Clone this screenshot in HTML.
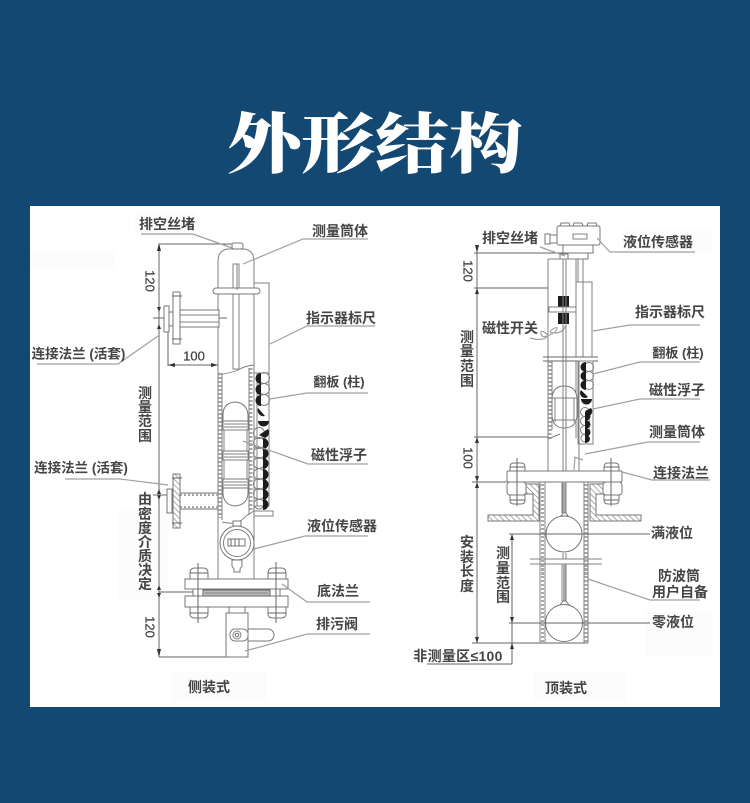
<!DOCTYPE html>
<html lang="zh"><head><meta charset="utf-8"><title>外形结构</title>
<style>
html,body{margin:0;padding:0;background:#134873;width:750px;height:803px;overflow:hidden}
svg{display:block;position:absolute;left:0;top:0}
.l{fill:none;stroke:#808080;stroke-width:1}
.k{fill:none;stroke:#666;stroke-width:1}
.g{fill:none;stroke:#a0a0a0;stroke-width:1.2}
.w{fill:#fff;stroke:#777;stroke-width:1}
.t{font-family:"Liberation Sans","Noto Sans CJK SC",sans-serif;font-size:14px;font-weight:700;fill:#444;text-anchor:middle;dominant-baseline:central}
.n{font-weight:400;font-size:13px;stroke:#444;stroke-width:.25}
.h{fill:url(#hatch);stroke:#777;stroke-width:1}
.d{fill:none;stroke:#aaa;stroke-width:3;stroke-dasharray:2 2}
.a{fill:#333}
</style></head>
<body>
<svg width="750" height="803" viewBox="0 0 750 803" xmlns="http://www.w3.org/2000/svg">
<defs>
<pattern id="hatch" width="4" height="4" patternUnits="userSpaceOnUse" patternTransform="rotate(-45)"><rect width="4" height="4" fill="#fff"/><line x1="0" y1="0" x2="0" y2="4" stroke="#777" stroke-width="1.2"/></pattern>
<filter id="b" x="0" y="0" width="100%" height="100%"><feGaussianBlur stdDeviation="0.35"/></filter>
</defs>
<text transform="translate(375 142.500) scale(1 .88)" x="0" y="-4" text-anchor="middle" dominant-baseline="central" font-family="'Noto Serif CJK SC','Liberation Serif',serif" font-size="74" font-weight="900" fill="#fff">外形结构</text>
<rect x="30" y="206" width="690" height="501" fill="#fff"/>
<g fill="#fcfcfc"><rect x="135" y="212" width="62" height="24"/><rect x="172" y="672" width="95" height="30"/><rect x="533" y="672" width="93" height="30"/><rect x="645" y="612" width="68" height="45"/><rect x="622" y="230" width="90" height="24"/><rect x="30" y="250" width="85" height="18"/><rect x="118" y="510" width="50" height="90"/></g>
<g filter="url(#b)">

<!-- LEFT: dimension lines -->
<path class="k" d="M159 244V657M159 244H232M159 657H248M168 330V366M218 350V370M168 365H218M153 318H227M159 592H193"/>
<path class="a" d="M159 243l-2 8h4zM159 657l-2-8h4zM159 312l-2-5h4zM159 324l-2 5h4zM168 365l7-2v4zM218 365l-7-2v4zM159 489l-2 5h4zM159 500l-2-5h4zM159 585l-2 5h4zM159 598l-2-5h4z"/>
<path class="k" d="M153 495H170"/>
<!-- body -->
<path class="l" d="M218 373V262Q218 250 228 249H244Q254 250 254 262V365"/>
<rect class="w" x="232" y="243" width="11" height="6" rx="2"/>
<rect class="l" x="233" y="264" width="6" height="105"/>
<rect class="w" x="213" y="288" width="47" height="6" rx="3"/>
<path class="l" d="M237 264V290M254 283H269V373M218 375Q235 372 240 369T254 365"/>
<!-- upper flange -->
<rect class="w" x="180" y="310" width="39" height="17"/>
<path class="l" d="M180 315H219M180 322H219"/>
<rect class="w" x="173" y="292" width="7" height="52"/>
<rect class="w" x="169" y="312" width="4" height="14"/>
<rect class="w" x="164" y="306" width="5" height="26"/>
<path class="k" d="M172 296H182M172 339H182"/>
<!-- tube lower -->
<path class="d" d="M220 373V518"/>
<path class="d" d="M251 368V512"/>
<path class="l" d="M218 373V579M222 373V520M254 365V579M249 368V515"/>
<path class="l" d="M222 522Q238 526 246 516L254 511"/>
<!-- scale lower -->
<rect class="l" x="254" y="373" width="15" height="133"/>
<rect class="l" x="257" y="373" width="12" height="133"/>
<g class="l">
<circle cx="264" cy="378" r="5.500"/><circle cx="264" cy="389" r="5.500"/><circle cx="264" cy="400" r="5.500"/><circle cx="259" cy="433" r="5.500"/><circle cx="259" cy="443" r="5.500"/><circle cx="259" cy="453" r="5.500"/><circle cx="259" cy="463" r="5.500"/><circle cx="259" cy="474" r="5.500"/><circle cx="259" cy="484" r="5.500"/><circle cx="259" cy="494" r="5.500"/><circle cx="259" cy="504" r="5"/>
</g>
<g fill="#1d1d1d">
<path d="M261 373a5.500 5.500 0 0 0 0 11zM261 384a5.500 5.500 0 0 0 0 11zM261 395a5.500 5.500 0 0 0 0 11z"/>
<path d="M258 408l7 8a6 6 0 0 1-7-8zM258 421h11a5.500 5.500 0 0 1-11 0zM268 429a6 6 0 0 1-3 9l-6-3z"/>
<path d="M263 438a5.500 5.500 0 0 1 0 11zM263 448a5.500 5.500 0 0 1 0 11zM263 458a5.500 5.500 0 0 1 0 11zM263 469a5.500 5.500 0 0 1 0 11zM263 479a5.500 5.500 0 0 1 0 11zM263 489a5.500 5.500 0 0 1 0 11zM263 499a5.500 5.500 0 0 1 0 11z"/>
</g>
<!-- float -->
<path class="w" d="M223 421V415Q223 403 235 402Q247 403 248 415V421Z"/>
<rect class="w" x="223" y="421" width="25" height="9"/>
<path class="l" d="M224 424H247M224 427H247"/>
<rect class="l" x="224" y="430" width="23" height="25"/>
<rect class="w" x="223" y="451" width="25" height="9"/>
<path class="l" d="M224 454H247M224 457H247"/>
<rect class="l" x="224" y="460" width="23" height="19"/>
<rect class="w" x="223" y="479" width="25" height="9"/>
<path class="l" d="M224 482H247M224 485H247"/>
<path class="w" d="M223 488V494Q224 505 235 506Q247 505 248 494V488Z"/>
<!-- lower flange -->
<rect class="w" x="180" y="493" width="38" height="16"/>
<path class="d" d="M180 494.500H218M180 507.500H218"/>
<rect class="h" x="173" y="474" width="7" height="54"/>
<rect class="w" x="167" y="489" width="5" height="24"/>
<path class="k" d="M172 478H182M172 523H182"/>
<!-- scale foot -->
<path class="l" d="M253 511H273V516H254"/>
<!-- transmitter -->
<rect class="w" x="233" y="521" width="8" height="5"/>
<circle class="w" cx="237" cy="543" r="17"/>
<circle class="l" cx="237" cy="543" r="13.500"/>
<rect class="w" x="228" y="539" width="17" height="7"/>
<path class="k" d="M231 539v7M235 539v7M239 539v7"/>
<path class="w" d="M232 560h10v6l-2 3v3h-6v-3l-2-3z"/>
<!-- bottom flange -->
<rect class="w" x="185" y="579" width="103" height="10"/>
<rect class="w" x="185" y="596" width="103" height="11"/>
<rect class="w" x="193" y="589" width="10" height="7"/><rect class="w" x="270" y="589" width="10" height="7"/>
<rect x="203" y="590" width="67" height="6" fill="#bbb" stroke="#666"/>
<path class="l" d="M205 593H268"/>
<path class="w" d="M190 579v-6q0-5 5-5h8q5 0 5 5v6z"/>
<path class="w" d="M268 579v-6q0-5 5-5h8q5 0 5 5v6z"/>
<path class="w" d="M190 607v7q0 4 5 4h8q5 0 5-4v-7z"/>
<path class="w" d="M268 607v7q0 4 5 4h8q5 0 5-4v-7z"/>
<path class="k" d="M198 563V623M276 562V623M190 573H208M268 573H286M190 613H208M268 613H286"/>
<!-- valve -->
<rect class="w" x="229" y="607" width="16" height="6"/>
<rect class="w" x="226" y="613" width="22" height="44"/>
<path class="w" d="M248 629H268a6 6 0 0 1 0 12H248Z"/>
<rect class="l" x="230" y="629" width="18" height="12" rx="5"/>
<circle class="l" cx="237" cy="635" r="4"/><circle class="k" cx="237" cy="635" r="1.800"/>
<!-- left leaders -->
<path class="g" d="M141 234H193L232 248M368 239H303L243 264M375 326H307L270 344M37 364H118L158 336M368 393H307L270 399M368 464H308L243 441M65 479H120L168 485M368 536H305L254 549M370 602H307L282 584M370 634H307L245 651"/>
<!-- left labels -->
<text class="t" x="167" y="224">排空丝堵</text>
<text class="t" x="340" y="231">测量筒体</text>
<text class="t" x="341" y="318">指示器标尺</text>
<text class="t" x="78.500" y="354" style="font-size:13.500px">连接法兰 (活套)</text>
<text class="t n" x="194" y="356">100</text>
<text class="t" x="339" y="382" style="font-size:13px">翻板 (柱)</text>
<text class="t" x="339" y="455">磁性浮子</text>
<text class="t" x="81" y="468" style="font-size:13.500px">连接法兰 (活套)</text>
<text class="t" x="342" y="526">液位传感器</text>
<text class="t" x="338" y="591">底法兰</text>
<text class="t" x="337" y="624">排污阀</text>
<text class="t" x="209" y="687">侧装式</text>
<text class="t" x="145" y="393">测</text><text class="t" x="145" y="407">量</text><text class="t" x="145" y="421">范</text><text class="t" x="145" y="436">围</text>
<text class="t" x="145" y="499">由</text><text class="t" x="145" y="514">密</text><text class="t" x="145" y="528">度</text><text class="t" x="145" y="542">介</text><text class="t" x="145" y="556">质</text><text class="t" x="145" y="570">决</text><text class="t" x="145" y="584">定</text>
<text class="t n" transform="translate(150 281) rotate(90)">120</text>
<text class="t n" transform="translate(150 627) rotate(90)">120</text>

<!-- RIGHT: dims -->
<path class="k" d="M477 248V643M474 288H548M474 253H563M474 437H548M472 482H507M472 643H588M512 534V664M509 534H650M509 623H650M427 664H512"/>
<path class="a" d="M477 253l-2-8h4zM477 288l-2 6h4zM477 437l-2 6h4zM477 482l-2-6h4zM477 482l-2 6h4zM477 643l-2-6h4zM512 534l-2 6h4zM512 623l-2-6h4zM512 643l-2 6h4z"/>
<!-- sensor -->
<rect class="w" x="557" y="226" width="43" height="19" rx="2"/>
<path class="w" d="M560 226l1-3h8l1 3zM573 226l1-3h8l1 3zM587 226l1-3h8l1 3z"/>
<rect class="l" x="573" y="234" width="14" height="5"/>
<rect class="w" x="550" y="235" width="7" height="8"/><rect class="w" x="545" y="234" width="5" height="10"/>
<rect class="w" x="563" y="245" width="30" height="8"/>
<rect class="w" x="568" y="253" width="20" height="6"/>
<rect class="w" x="560" y="254" width="8" height="5"/>
<!-- body -->
<path class="l" d="M548 259H576V357M548 259V439M563 259V516M566 259V516"/>
<path class="l" d="M578 259V282M583 259V282"/>
<rect class="l" x="576" y="282" width="16" height="75"/>
<path class="l" d="M583 282V357"/>
<rect x="558" y="296" width="11" height="11" fill="#1d1d1d"/><rect x="558" y="313" width="11" height="11" fill="#1d1d1d"/>
<rect class="l" x="549" y="307" width="27" height="5"/>
<path class="g" d="M530 338Q545 342 548 335Q540 328 541 334T555 332Q560 325 553 329T556 333Q564 332 565 326"/>
<path class="k" d="M543 357H598M543 361H598"/>
<!-- lower -->
<path class="d" d="M550 361V439"/>
<path class="l" d="M548 361V471M552 361V430M576 361V438M579 361V471"/>
<rect class="l" x="578" y="361" width="15" height="83"/>
<g class="l"><circle cx="589" cy="367" r="4.500"/><circle cx="589" cy="376" r="4.500"/><circle cx="589" cy="385" r="4.500"/><circle cx="585" cy="412" r="4.500"/><circle cx="585" cy="421" r="4.500"/><circle cx="585" cy="430" r="4.500"/><circle cx="585" cy="438" r="4"/></g>
<g fill="#1d1d1d">
<path d="M586 362a5.500 5 0 0 0 0 10zM586 371a5.500 5 0 0 0 0 10zM586 380a5.500 5 0 0 0 0 10z"/>
<path d="M581 390l7 7a5 5 0 0 1-7-7zM581 399h11a5 5 0 0 1-11 0zM591 408l-6 3 4 5a5 5 0 0 0 2-8z"/>
<path d="M585 412a5.500 4.500 0 0 1 0 9zM585 420a5.500 4.500 0 0 1 0 9zM585 428a5.500 4.500 0 0 1 0 9zM585 435a5 4 0 0 1 0 8z"/>
</g>
<path class="w" d="M552 398Q553 386 564 386Q576 386 577 398V416Q576 428 564 428Q553 428 552 416Z"/>
<path class="l" d="M552 398H577M555 398V422M574 398V422M553 420H576"/>
<path class="l" d="M563 259V482M566 259V482M548 439L560 434"/>
<!-- flange -->
<rect class="w" x="507" y="471" width="115" height="11" rx="1"/>
<path class="h" d="M522 484H539V521H488V515H533V494H522Z"/>
<path class="h" d="M607 484H590V521H641V515H596V494H607Z"/>
<rect class="w" x="507" y="482" width="19" height="13" rx="3"/>
<rect class="w" x="603" y="482" width="19" height="13" rx="3"/>
<path class="w" d="M510 471v-4q0-4 4-4h7q4 0 4 4v4zM604 471v-4q0-4 4-4h7q4 0 4 4v4z"/>
<path class="w" d="M510 495v5q0 4 4 4h7q4 0 4-4v-5zM604 495v5q0 4 4 4h7q4 0 4-4v-5z"/>
<path class="k" d="M517 458V506M611 458V506M510 467H525M604 467H619M510 500H525M604 500H619"/>
<!-- tube -->
<path class="l" d="M540 482V643M545 482V643M584 482V643M588 482V643"/>
<path class="d" d="M542.500 484V642M586 484V642"/>
<rect fill="#aaa" x="563" y="483" width="3" height="30"/>
<path class="l" d="M562 483V513M566 483V513"/>
<path class="w" d="M561 516l2-3h3l2 3z"/>
<circle class="w" cx="564" cy="534" r="18"/>
<rect fill="#fff" x="546" y="553" width="37" height="18"/>
<path class="l" d="M563 553V559M566 553V559M530 559H602M530 564H602"/>
<rect fill="#aaa" x="563" y="564" width="3" height="37"/>
<path class="l" d="M562 564V601M566 564V601"/>
<path class="l" d="M540 552V575M545 552V575M584 552V575M588 552V575"/>
<path class="d" d="M542.500 552V558M542.500 565V575M586 552V558M586 565V575"/>
<path class="w" d="M560 605l3-4h3l3 4z"/>
<circle class="w" cx="564" cy="623" r="18.500"/>
<path class="k" d="M509 534H650M509 623H650"/>
<!-- right leaders -->
<path class="g" d="M540 247L565 256M695 252H610L597 238M700 325H630L593 331M700 362H640L593 374M700 399H640L593 409M700 442H648L585 454M710 480H652L622 472M700 600H650L588 579"/>
<path class="g" d="M575 457L574 470M583 460L574 457"/>
<!-- right labels -->
<text class="t" x="510" y="238">排空丝堵</text>
<text class="t" x="658" y="242">液位传感器</text>
<text class="t" x="670" y="312">指示器标尺</text>
<text class="t" x="510" y="328">磁性开关</text>
<text class="t" x="678" y="353" style="font-size:13px">翻板 (柱)</text>
<text class="t" x="677" y="390">磁性浮子</text>
<text class="t" x="677" y="432">测量筒体</text>
<text class="t" x="681" y="473">连接法兰</text>
<text class="t" x="672" y="533">满液位</text>
<text class="t" x="679" y="576">防波筒</text>
<text class="t" x="680" y="592">用户自备</text>
<text class="t" x="673" y="622">零液位</text>
<text class="t" x="458" y="656" style="letter-spacing:.3px">非测量区≤100</text>
<text class="t" x="566" y="688">顶装式</text>
<text class="t" x="467" y="337">测</text><text class="t" x="467" y="351">量</text><text class="t" x="467" y="366">范</text><text class="t" x="467" y="381">围</text>
<text class="t" x="467" y="542">安</text><text class="t" x="467" y="557">装</text><text class="t" x="467" y="571">长</text><text class="t" x="467" y="586">度</text>
<text class="t" x="503" y="553">测</text><text class="t" x="503" y="568">量</text><text class="t" x="503" y="583">范</text><text class="t" x="503" y="597">围</text>
<text class="t n" transform="translate(468 271) rotate(90)">120</text>
<text class="t n" transform="translate(468 458) rotate(90)">100</text>
</g>
</svg>
</body></html>
